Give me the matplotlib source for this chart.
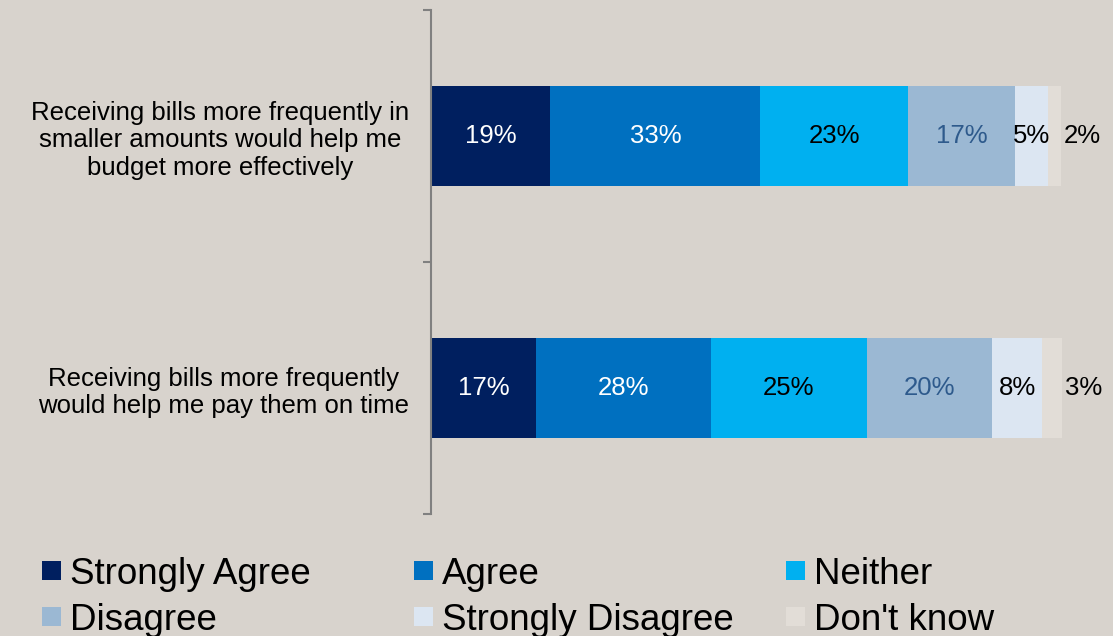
import matplotlib.pyplot as plt
from matplotlib.patches import Rectangle

plt.rcParams['font.family'] = ['Liberation Sans', 'DejaVu Sans']

# survey data (percent of respondents)
statements = ['Receiving bills more frequently in\nsmaller amounts would help me\nbudget more effectively',
              'Receiving bills more frequently\nwould help me pay them on time']
responses = ['Strongly Agree', 'Agree', 'Neither', 'Disagree', 'Strongly Disagree', "Don't know"]
smaller_amounts = [18.9, 33.3, 23.3, 17.1, 5.1, 2.1]
pay_on_time = [16.7, 27.6, 24.8, 19.8, 7.9, 3.2]

colors = ['#001F5F', '#0070C0', '#00B0F0', '#9BB8D3', '#DCE6F2', '#E2DDD7']
label_colors = ['white', 'white', 'black', '#2E5A8C', 'black', 'black']
bg = '#D8D3CD'

fig = plt.figure(figsize=(11.13, 6.36), dpi=100, facecolor=bg)
ax = fig.add_axes([0.3873, 0.1918, 0.567, 0.7925], facecolor=bg)

rows = [smaller_amounts, pay_on_time]
ypos = [1, 0]
for vals, y in zip(rows, ypos):
    left = 0
    for i, v in enumerate(vals):
        ax.barh(y, v, left=left, height=0.4, color=colors[i], linewidth=0)
        if i == len(vals) - 1:
            # last segment is too narrow, label sits just right of the bar
            ax.text(left + v + 0.4, y, f'{v:.0f}%', ha='left', va='center',
                    fontsize=18.5, color=label_colors[i])
        else:
            ax.text(left + v / 2, y, f'{v:.0f}%', ha='center', va='center',
                    fontsize=18.5, color=label_colors[i])
        left += v

ax.set_xlim(0, 100)
ax.set_ylim(-0.5, 1.5)
ax.set_xticks([])
ax.set_yticks(ypos)
ax.set_yticklabels(statements, fontsize=18.5, linespacing=1.2)
for lbl in ax.get_yticklabels():
    lbl.set_multialignment('center')
ax.set_yticks([-0.5, 0.5, 1.5], minor=True)
ax.tick_params(axis='y', which='major', length=0, pad=16)
ax.tick_params(axis='y', which='minor', length=6, width=1.5, color='#808080')

for s in ['top', 'right', 'bottom']:
    ax.spines[s].set_visible(False)
ax.spines['left'].set_color('#808080')
ax.spines['left'].set_linewidth(1.5)

# legend laid out in a 3 x 2 grid like the original
W, H = 1113, 636
for i, name in enumerate(responses):
    col = i % 3
    row = i // 3
    x0 = 42 + col * 372
    yc = 570 + row * 46
    fig.patches.append(Rectangle((x0 / W, 1 - (yc + 9.5) / H), 19 / W, 19 / H,
                                 transform=fig.transFigure, color=colors[i], linewidth=0))
    fig.text((x0 + 28) / W, 1 - yc / H, name, fontsize=26.5, va='center_baseline', ha='left')

fig.savefig('out.png', dpi=100, facecolor=bg)
